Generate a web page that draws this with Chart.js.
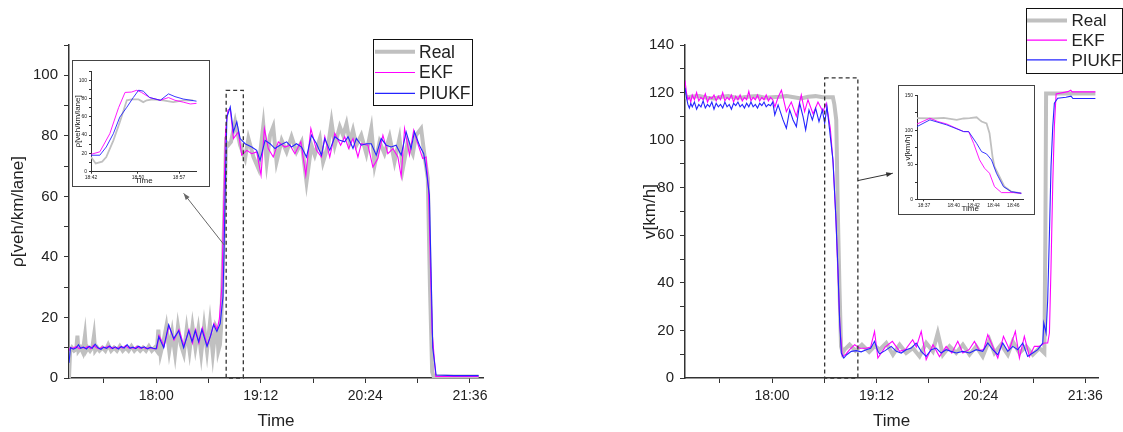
<!DOCTYPE html>
<html>
<head>
<meta charset="utf-8">
<script src="https://cdn.jsdelivr.net/npm/chart.js@4.4.1/dist/chart.umd.min.js"></script>
<style>
  html, body { margin: 0; padding: 0; background: #fff; }
  body { width: 1123px; height: 432px; position: relative; overflow: hidden; }
  canvas { position: absolute; }
  .inset { position: absolute; border: 1px solid #444; background: #fff; }
  .inset canvas { left: 0; top: 0; }
</style>
</head>
<body>
<canvas id="rho" width="560" height="432" style="left:0;top:0"></canvas>
<canvas id="speed" width="487" height="432" style="left:636px;top:0"></canvas>
<div class="inset" style="left:72px;top:60px;width:136px;height:125px"><canvas id="rhoInset" width="136" height="125"></canvas></div>
<div class="inset" style="left:898px;top:85px;width:135px;height:128px"><canvas id="speedInset" width="135" height="128"></canvas></div>
<script>
// time is in minutes after midnight (1080 = 18:00)
const mainTicks = [1044, 1080, 1116, 1152, 1188, 1224, 1260, 1296];
const mainLabelTicks = [1080, 1152, 1224, 1296];
const mainTickLabels = ['18:00', '19:12', '20:24', '21:36'];

// density panel
const rhoRealTime = [
  1020, 1020.8, 1022, 1023.5, 1025, 1025.8, 1026.5, 1028, 1029.5, 1031,
  1031.8, 1033, 1034.5, 1036, 1037.2, 1038, 1039.5, 1041, 1043, 1045,
  1047, 1049, 1051, 1053, 1055, 1057, 1059, 1061, 1063, 1065,
  1067, 1069, 1071, 1073, 1075, 1077, 1079, 1080.5, 1081.5, 1083,
  1085, 1087, 1089, 1091, 1093, 1095, 1097, 1099, 1101, 1103,
  1105, 1107, 1109, 1111, 1113, 1115, 1117, 1119, 1121, 1122,
  1122.8, 1123.9, 1124.6, 1125.8, 1126.9, 1128.1, 1129.8, 1131.5, 1134.4, 1137.8,
  1141.2, 1143.5, 1147, 1150.4, 1153.8, 1156.1, 1158.4, 1160.6, 1162.9, 1166.4,
  1169.8, 1173.2, 1176.6, 1180.1, 1183.5, 1186.9, 1189.2, 1192.7, 1194.9, 1198.4,
  1200.7, 1203, 1206.4, 1208.7, 1211, 1213.2, 1215.5, 1217.8, 1221.2, 1224.7,
  1228.1, 1230.4, 1233.8, 1237.2, 1240.7, 1244.1, 1247.5, 1249.8, 1253.2, 1256.7,
  1258.9, 1262.4, 1264.7, 1267, 1268.5, 1270, 1271, 1280, 1290, 1302
];
const rhoReal = [
  0, 9, 10, 9, 9.5, 14, 9, 10, 8.5, 14,
  9, 10, 9, 10, 14, 9, 10, 9, 10, 9,
  11, 9, 10, 9, 10.5, 9, 10, 9, 10.5, 9,
  10, 9, 10, 9, 10.5, 9, 10, 9, 16, 8,
  12, 17, 9, 15, 8, 17, 11, 8, 16, 9,
  17, 10, 16, 8, 17, 9, 18, 8, 17, 16,
  9, 11, 16, 34, 54, 78, 77, 78, 84.6, 76.9,
  72.5, 79.1, 73, 69.2, 83.5, 71.4, 80.2, 83, 71.4, 78.5,
  74.7, 79.7, 74.7, 78, 64.8, 76.9, 73.6, 79.1, 71.4, 76.9,
  84.6, 76.9, 83, 80.2, 84, 78, 81.9, 76.9, 80.2, 74.1,
  82.4, 70.3, 78, 74.1, 79.7, 71.4, 79.1, 69.2, 78, 74.1,
  80.2, 82.4, 73.6, 65.9, 30, 2, 0.5, 0.5, 0.5, 0.5
];
const rhoEkfTime = [
  1020, 1021, 1023, 1025, 1027, 1029, 1031, 1033, 1035, 1037,
  1039, 1041, 1043, 1045, 1047, 1049, 1051, 1053, 1055, 1057,
  1059, 1061, 1063, 1065, 1067, 1069, 1071, 1073, 1075, 1077,
  1079, 1080.5, 1082, 1085.5, 1088.8, 1092.3, 1095.7, 1099.2, 1102.6, 1105,
  1107.2, 1109.5, 1111.8, 1115.2, 1117.8, 1119.8, 1122, 1123.5, 1125.2, 1126.7,
  1127.8, 1129.4, 1131, 1133.2, 1136.6, 1138.9, 1142.4, 1145.8, 1149.2, 1152.2,
  1154.5, 1157.2, 1160.6, 1164.1, 1168.6, 1172.1, 1175.5, 1179.6, 1183, 1186.5,
  1190.4, 1193.8, 1196.1, 1199.5, 1203, 1207, 1209.8, 1212.5, 1215.5, 1218.9,
  1221.2, 1225.8, 1229.2, 1232.6, 1236.1, 1239.5, 1243, 1246.4, 1248.7, 1251,
  1254.4, 1257.3, 1260.1, 1263.5, 1265.8, 1267.5, 1270, 1272.5, 1285, 1302
];
const rhoEkf = [
  9, 10, 9.8, 10.4, 9.7, 10.2, 9.8, 10.4, 9.7, 10.8,
  10, 9.6, 10.3, 9.9, 10.5, 9.8, 10.2, 9.7, 10.3, 9.9,
  10.7, 9.9, 10.1, 9.8, 10.4, 9.8, 10.2, 9.7, 10, 9.9,
  9.6, 9.8, 14, 10.5, 17.2, 12.5, 16, 10.5, 16, 11.5,
  16, 11.5, 16.5, 10.8, 14.5, 18, 16, 19.5, 30, 60,
  82, 88.4, 89, 79.1, 81.3, 73.6, 75.2, 74.1, 74.7, 67,
  82.4, 75.8, 73, 78, 76.3, 76.9, 74.1, 78, 67, 82.4,
  75.2, 73, 79.7, 73, 80.8, 76.9, 79.7, 75.8, 79.1, 73,
  77.4, 76.9, 69.7, 72.5, 80.2, 74.1, 75.8, 73, 66.5, 82.4,
  73.6, 81.9, 77.4, 72.5, 73, 62, 15, 0.5, 0.5, 0.5
];
const rhoPiukfTime = [
  1020, 1021, 1023, 1025, 1026.5, 1028, 1030, 1032, 1034, 1036,
  1038, 1040, 1042, 1044, 1046, 1048, 1050, 1052, 1054, 1056,
  1058, 1060, 1062, 1064, 1066, 1068, 1070, 1072, 1074, 1076,
  1078, 1080, 1081.8, 1085.2, 1088.6, 1092.1, 1095.5, 1098.9, 1102.4, 1104.7,
  1106.9, 1109.2, 1111.5, 1115, 1117.5, 1119.5, 1121.8, 1124.1, 1126, 1126.8,
  1127.7, 1128.7, 1131, 1133.2, 1135.5, 1137.8, 1141.2, 1145.8, 1149.2, 1151.5,
  1155, 1158.4, 1161.8, 1165.2, 1169.8, 1173.2, 1176.6, 1180.1, 1183.5, 1186.9,
  1190.4, 1193.8, 1196.1, 1199.5, 1203, 1206.4, 1209.8, 1212.1, 1215.5, 1217.8,
  1221.2, 1224.7, 1228.1, 1231.5, 1234.9, 1238.4, 1241.8, 1245.2, 1248.7, 1252.1,
  1255.5, 1257.8, 1261.2, 1264.2, 1265.8, 1268.1, 1270.4, 1272.7, 1285, 1302
];
const rhoPiukf = [
  5, 10, 9.5, 10, 11, 9.8, 10.2, 9.6, 10.5, 9.8,
  11.2, 10, 9.5, 10.2, 9.8, 10.6, 9.7, 10.3, 9.6, 10.4,
  9.9, 11, 9.8, 10.2, 9.7, 10.5, 9.9, 10.3, 9.6, 10.1,
  9.8, 9.6, 13.6, 10, 17.6, 13, 15.6, 10, 15.6, 12,
  15.6, 12, 16, 10.4, 14, 17.6, 15.4, 18, 26.8, 43.3,
  65.3, 86.2, 89.5, 81.3, 84.6, 79.1, 77.4, 76.3, 75.2, 71.9,
  78.5, 77.4, 75.8, 76.9, 78, 76.3, 77.4, 76.3, 73, 80.2,
  77.4, 73.6, 79.1, 75.2, 79.7, 78.5, 78, 79.7, 75.8, 79.1,
  76.9, 77.4, 77.4, 73.6, 79.1, 76.9, 76.3, 76.9, 73.6, 81.3,
  75.8, 81.3, 76.9, 74.1, 69.2, 60.4, 10, 1, 0.8, 0.8
];

// speed panel
const vRealTime = [
  1020, 1021, 1025, 1030, 1035, 1040, 1045, 1050, 1055, 1060,
  1065, 1070, 1075, 1080, 1085, 1090, 1095, 1100, 1105, 1110,
  1115, 1118, 1122, 1123, 1124.3, 1125.4, 1126.5, 1127.6, 1128.8, 1130,
  1133.5, 1137.5, 1142, 1147, 1151, 1154.2, 1158.8, 1163.4, 1168, 1172.5,
  1177.1, 1181.7, 1186.3, 1190.9, 1194.3, 1197.8, 1202.4, 1207, 1211.6, 1216.2,
  1220.8, 1225.3, 1229.9, 1233.4, 1238, 1242.6, 1246, 1250.6, 1255.2, 1259.8,
  1264.4, 1267.8, 1268.5, 1269, 1303
];
const vReal = [
  119, 118, 118.3, 118.5, 117.8, 117.5, 118.2, 118.5, 117.8, 118,
  118.3, 118.5, 117.8, 118, 118.2, 118.5, 118, 117.5, 118.2, 118.5,
  118, 118, 118, 115, 108.5, 69.3, 38.5, 13.3, 10.5, 11.9,
  14, 11.5, 14, 11, 13.5, 11.9, 14.7, 9.8, 14, 10.5,
  12.6, 9.1, 14.7, 11.2, 18.9, 9.8, 13.3, 10.5, 14, 9.8,
  13.3, 9.1, 16.1, 10.5, 14, 9.8, 15.4, 10.5, 13.3, 9.8,
  12.6, 10.5, 60, 119.6, 119.6
];
const vEkfTime = [
  1020, 1021, 1022, 1023, 1024, 1025, 1026.5, 1028, 1029.5, 1031,
  1032.5, 1034, 1035.5, 1037, 1038.5, 1040, 1041.5, 1043, 1044.5, 1046,
  1047.5, 1049, 1050.5, 1052, 1053.5, 1055, 1056.5, 1058, 1059.5, 1061,
  1062.5, 1064, 1065.5, 1067, 1068.5, 1070, 1071.5, 1073, 1074.5, 1076,
  1077.5, 1079, 1080.5, 1082, 1084.2, 1086.5, 1089.9, 1093.3, 1096.8, 1100.2,
  1102.5, 1104.8, 1108.3, 1111.7, 1115.1, 1117.4, 1120.2, 1122.2, 1124.1, 1125.6,
  1126.8, 1128.5, 1131, 1133.5, 1137, 1140.5, 1145, 1148, 1150.7, 1153,
  1158, 1163, 1168, 1172, 1177, 1179.5, 1182.9, 1186.3, 1191, 1195.5,
  1200.1, 1204, 1208.1, 1211.6, 1216, 1219.6, 1223, 1226, 1228.8, 1232.2,
  1235.7, 1239.6, 1243.7, 1247.8, 1250.6, 1254, 1257.5, 1260.9, 1264.4, 1267.8,
  1270.1, 1271.3, 1272.4, 1273.6, 1274.7, 1275.9, 1284, 1286, 1287, 1303
];
const vEkf = [
  125, 120, 117, 118, 116, 119, 117, 120, 116.5, 118,
  117, 119.5, 116, 118, 117.5, 119, 116.5, 118.5, 117, 120,
  116.5, 118, 117, 119, 116, 118.5, 117, 119, 116.5, 118,
  117, 120.5, 116.5, 118, 117, 119, 116.5, 118, 117, 119,
  116.5, 118, 117, 114, 118, 121, 112, 116, 110, 119,
  112, 117, 111, 116, 112, 115.5, 105, 90, 66, 42,
  22, 9.1, 10, 11.9, 14, 12.5, 12.5, 13, 19.6, 8.4,
  13, 15.4, 11.2, 12, 16.1, 13, 19.6, 7.7, 14, 9,
  13.3, 10.5, 15.4, 10.5, 12, 15.4, 11.5, 12, 18.2, 13.3,
  8.4, 17.5, 12, 19.6, 8.4, 17.5, 9, 13.3, 13.3, 14.7,
  14.7, 18.9, 46.9, 81.9, 105.7, 119.4, 120.4, 121, 120.3, 120.3
];
const vPiukfTime = [
  1020, 1021, 1022, 1023, 1024, 1025, 1026.5, 1028, 1029.5, 1031,
  1032.5, 1034, 1035.5, 1037, 1038.5, 1040, 1041.5, 1043, 1044.5, 1046,
  1047.5, 1049, 1050.5, 1052, 1053.5, 1055, 1056.5, 1058, 1059.5, 1061,
  1062.5, 1064, 1065.5, 1067, 1068.5, 1070, 1071.5, 1073, 1074.5, 1076,
  1077.5, 1079, 1080.5, 1081.9, 1084.2, 1087.6, 1089.9, 1092.2, 1094.5, 1096.8,
  1099.1, 1101.4, 1103.2, 1105.5, 1107.8, 1110.1, 1112.4, 1114.7, 1116.3, 1117.9,
  1119.7, 1122, 1123.9, 1125.5, 1126.6, 1127.8, 1129.5, 1131.5, 1134.7, 1138.1,
  1141.5, 1145, 1148, 1150.7, 1153, 1154.2, 1158, 1162.2, 1165.7, 1169.1,
  1172.5, 1176, 1179.4, 1182.9, 1186.3, 1189.8, 1193.2, 1196.6, 1200.1, 1203.5,
  1207, 1211.6, 1216.2, 1220.8, 1225.3, 1228.8, 1232.2, 1235.7, 1239.1, 1242.6,
  1246, 1249.5, 1252.9, 1256.3, 1259.8, 1263.2, 1266.7, 1267.4, 1269, 1270.1,
  1271.3, 1272.4, 1273.6, 1274.7, 1277, 1282.7, 1286.2, 1287.5, 1303
];
const vPiukf = [
  122, 118, 115, 113.5, 115.5, 114, 116, 113, 115, 114,
  116.5, 113.5, 115, 114, 116, 113, 115.5, 114, 115, 113.5,
  116, 114, 115, 113, 115.5, 114.5, 116, 114, 115, 113.5,
  115.5, 114, 116, 114, 115, 113.5, 115.5, 114.5, 116, 114,
  115, 114.5, 116, 110.6, 114.8, 108.5, 105, 112.7, 108.5, 105.7,
  115.5, 109.9, 104.3, 112.7, 108.5, 113.4, 107.8, 112.7, 107.1, 114.1,
  104.3, 91.7, 69.3, 45.5, 24.5, 10.5, 8.4, 9.8, 11.2, 11.5,
  11, 11.9, 12.5, 15.4, 11.2, 10.2, 11.5, 13.3, 11.2, 10.5,
  11.9, 12.6, 14.7, 11.2, 9.1, 11.9, 12.6, 10.5, 11.9, 11.2,
  10.5, 11.2, 10.5, 11.9, 11.2, 14.7, 11.9, 9.8, 14.7, 11.2,
  13.3, 11.9, 14.7, 9.1, 10.5, 11.9, 14.7, 23.1, 18.9, 32.9,
  60.9, 88.9, 105.7, 115.5, 117.6, 118, 118.5, 117.5, 117.5
];

// zoomed insets
const rhoInsetTicks = [1122, 1130, 1137];
const rhoInsetLabels = ['18:42', '18:50', '18:57'];
const rhoInsetRealTime = [1122, 1122.8, 1123.9, 1124.6, 1125.8, 1126.9, 1128.1, 1128.9, 1130.1, 1130.9, 1131.5, 1132.5, 1134.3, 1136, 1137.7, 1139.4];
const rhoInsetReal = [16, 9, 11, 16, 34, 54, 78, 79, 79, 76, 78, 79, 78, 76, 78, 78];
const rhoInsetEkfTime = [1122, 1123.5, 1125.2, 1126.7, 1127.8, 1128.9, 1129.8, 1130.6, 1132, 1133.8, 1135.2, 1136.3, 1137.7, 1138.9, 1140];
const rhoInsetEkf = [19, 21.7, 41.5, 70, 86.6, 87, 89, 86.6, 81, 78, 81, 78, 76, 74, 74.7];
const rhoInsetPiukfTime = [1122, 1123.5, 1124.6, 1125.8, 1126.9, 1128.1, 1129.2, 1130.1, 1130.9, 1132, 1133.8, 1135.2, 1136.3, 1137.7, 1140];
const rhoInsetPiukf = [18, 18, 27, 41.5, 59.6, 70.4, 81, 89, 88, 81, 78, 85, 82, 79.4, 77];

const vInsetTicks = [1117, 1120, 1122, 1124, 1126];
const vInsetLabels = ['18:37', '18:40', '18:42', '18:44', '18:46'];
const vInsetRealTime = [1116.3, 1118, 1119, 1120.3, 1121, 1121.6, 1122.3, 1122.6, 1122.8, 1123.3, 1123.6, 1123.9, 1124.1, 1124.6, 1125.1, 1125.8, 1126.8];
const vInsetReal = [117.4, 117, 117.8, 115, 117, 117.5, 118.8, 115, 112.6, 110, 95.7, 61.8, 47.3, 32.9, 18.4, 11.1, 8.7];
const vInsetEkfTime = [1116.3, 1117.6, 1118.4, 1119.3, 1121, 1121.5, 1122, 1122.6, 1123.1, 1123.6, 1124.1, 1124.8, 1126, 1126.8];
const vInsetEkf = [109, 117.4, 112.6, 109, 98, 98, 81, 57, 45, 37.7, 18.4, 9.7, 9.7, 8.7];
const vInsetPiukfTime = [1116.3, 1117.6, 1119.3, 1121, 1121.5, 1122.3, 1122.8, 1123.3, 1123.8, 1124.3, 1125, 1125.8, 1126.8];
const vInsetPiukf = [105.3, 115, 107.7, 98, 98, 81, 69, 65.7, 57, 37.7, 18.4, 11, 8.7];

const FONT = '"Liberation Sans", Arial, sans-serif';
const TEXT = '#222';
const AXIS = '#333';
const COLORS = { real: '#c0c0c0', ekf: '#ff00ff', piukf: '#2424ff' };

function series(t, v) {
    return t.map((x, i) => ({ x: x, y: v[i] }));
}

function makeDatasets(real, ekf, piukf, w, realW) {
    return [
        { label: 'PIUKF', data: piukf, borderColor: COLORS.piukf, borderWidth: w, order: 1 },
        { label: 'EKF', data: ekf, borderColor: COLORS.ekf, borderWidth: w, order: 2 },
        { label: 'Real', data: real, borderColor: COLORS.real, borderWidth: realW, order: 3 }
    ];
}

/**
 * Axis options shared by the big panels and the insets
 */
function axisOptions(c) {
    return {
        responsive: false,
        animation: false,
        layout: { padding: { top: c.padTop, right: c.padRight, left: 0, bottom: 0 } },
        elements: { point: { radius: 0 }, line: { tension: 0, fill: false } },
        plugins: { legend: { display: false }, tooltip: { enabled: false } },
        scales: {
            x: {
                type: 'linear',
                min: c.xmin,
                max: c.xmax,
                afterBuildTicks: (s) => { s.ticks = c.xTicks.map(v => ({ value: v })); },
                afterFit: (s) => { s.height = c.xHeight; },
                ticks: {
                    autoSkip: false, maxRotation: 0, padding: c.tickPad, color: TEXT,
                    font: { family: FONT, size: c.xTickFont },
                    callback: (v) => {
                        const i = c.xLabelTicks.indexOf(v);
                        return i >= 0 ? c.xLabels[i] : '';
                    }
                },
                grid: { drawOnChartArea: false, tickLength: c.tickLen, color: AXIS },
                border: { color: AXIS, width: c.axisWidth },
                title: {
                    display: true, text: 'Time', color: TEXT,
                    font: { family: FONT, size: c.titleFont },
                    padding: { top: 0, bottom: 0 }
                }
            },
            y: {
                min: 0,
                max: c.ymax,
                afterFit: (s) => { s.width = c.yWidth; },
                ticks: {
                    stepSize: c.ystep, padding: c.tickPad + 1, color: TEXT,
                    font: { family: FONT, size: c.yTickFont },
                    callback: (v) => (v % c.ylabelStep === 0 ? v : '')
                },
                grid: { drawOnChartArea: false, tickLength: c.tickLen, color: AXIS },
                border: { color: AXIS, width: c.axisWidth },
                title: {
                    display: true, text: c.yTitle, color: TEXT,
                    font: { family: FONT, size: c.titleFont },
                    padding: { top: c.yTitlePad, bottom: 0 }
                }
            }
        }
    };
}

// dashed zoom box and arrow, given in data units
function decorPlugin(d) {
    return {
        id: 'decor',
        afterDatasetsDraw(chart) {
            const { ctx } = chart;
            const xs = chart.scales.x, ys = chart.scales.y;
            const x0 = xs.getPixelForValue(d.box[0]), x1 = xs.getPixelForValue(d.box[1]);
            const y0 = ys.getPixelForValue(d.box[2]), y1 = ys.getPixelForValue(d.box[3]);
            ctx.save();
            ctx.strokeStyle = '#333';
            ctx.lineWidth = 1.3;
            ctx.setLineDash([4, 3]);
            ctx.strokeRect(x0, y1, x1 - x0, y0 - y1);
            ctx.setLineDash([]);

            const ax = xs.getPixelForValue(d.arrow[0]), ay = ys.getPixelForValue(d.arrow[1]);
            const bx = xs.getPixelForValue(d.arrow[2]), by = ys.getPixelForValue(d.arrow[3]);
            const ang = Math.atan2(by - ay, bx - ax);
            ctx.strokeStyle = d.arrowColor;
            ctx.fillStyle = d.arrowColor;
            ctx.lineWidth = 1;
            ctx.beginPath();
            ctx.moveTo(ax, ay);
            ctx.lineTo(bx, by);
            ctx.stroke();
            ctx.beginPath();
            ctx.moveTo(bx, by);
            ctx.lineTo(bx - 7 * Math.cos(ang - 0.35), by - 7 * Math.sin(ang - 0.35));
            ctx.lineTo(bx - 7 * Math.cos(ang + 0.35), by - 7 * Math.sin(ang + 0.35));
            ctx.closePath();
            ctx.fill();
            ctx.restore();
        }
    };
}

// boxed legend like the original figure
function legendPlugin(b) {
    return {
        id: 'boxLegend',
        afterDraw(chart) {
            const ctx = chart.ctx;
            const items = [['Real', COLORS.real, 4], ['EKF', COLORS.ekf, 1.2], ['PIUKF', COLORS.piukf, 1.2]];
            ctx.save();
            ctx.fillStyle = '#fff';
            ctx.fillRect(b.x, b.y, b.w, b.h);
            ctx.strokeStyle = '#111';
            ctx.lineWidth = 1;
            ctx.strokeRect(b.x + 0.5, b.y + 0.5, b.w, b.h);
            ctx.font = `${b.font}px ${FONT}`;
            ctx.textBaseline = 'middle';
            items.forEach(([label, color, w], i) => {
                const y = b.y + b.first + i * b.gap;
                ctx.strokeStyle = color;
                ctx.lineWidth = w;
                ctx.beginPath();
                ctx.moveTo(b.x + b.line0, y);
                ctx.lineTo(b.x + b.line1, y);
                ctx.stroke();
                ctx.fillStyle = TEXT;
                ctx.fillText(label, b.x + b.text, y + 1);
            });
            ctx.restore();
        }
    };
}

const mainBase = {
    padTop: 45, xmin: 1020, xmax: 1305, xTicks: mainTicks, xLabelTicks: mainLabelTicks, xLabels: mainTickLabels,
    xHeight: 54, tickPad: 5, xTickFont: 14, yTickFont: 15, tickLen: 5, axisWidth: 1.5, titleFont: 17, ystep: 10, ylabelStep: 20
};
const insetBase = {
    padTop: 10, tickPad: 1, xTickFont: 5, yTickFont: 5, tickLen: 2, axisWidth: 1, titleFont: 8, yWidth: 18, yTitlePad: 0
};

new Chart(document.getElementById('rho'), {
    type: 'line',
    data: { datasets: makeDatasets(series(rhoRealTime, rhoReal), series(rhoEkfTime, rhoEkf), series(rhoPiukfTime, rhoPiukf), 1.1, 4) },
    options: axisOptions({ ...mainBase, padRight: 77, ymax: 110, yWidth: 69, yTitle: 'ρ[veh/km/lane]', yTitlePad: 8 }),
    plugins: [
        decorPlugin({ box: [1128.2, 1140, 0, 95], arrow: [1126.9, 43.9, 1098.9, 61], arrowColor: '#666' }),
        legendPlugin({ x: 373, y: 39, w: 99, h: 66, first: 12.7, gap: 20.8, line0: 2, line1: 42, text: 46, font: 17.5 })
    ]
});

new Chart(document.getElementById('speed'), {
    type: 'line',
    data: { datasets: makeDatasets(series(vRealTime, vReal), series(vEkfTime, vEkf), series(vPiukfTime, vPiukf), 1.1, 4) },
    options: axisOptions({ ...mainBase, padRight: 24.7, ymax: 140, yWidth: 49, yTitle: 'v[km/h]', yTitlePad: 4 }),
    plugins: [
        decorPlugin({ box: [1116.3, 1139.2, 0, 126.2], arrow: [1139.2, 83, 1163.3, 86.1], arrowColor: '#333' }),
        legendPlugin({ x: 390, y: 8, w: 96, h: 65, first: 12.5, gap: 19.7, line0: 1, line1: 41, text: 45.5, font: 17 })
    ]
});

new Chart(document.getElementById('rhoInset'), {
    type: 'line',
    data: { datasets: makeDatasets(series(rhoInsetRealTime, rhoInsetReal), series(rhoInsetEkfTime, rhoInsetEkf), series(rhoInsetPiukfTime, rhoInsetPiukf), 0.9, 1.8) },
    options: axisOptions({
        ...insetBase, padRight: 12.3, xHeight: 14.3, xmin: 1122, xmax: 1140,
        xTicks: rhoInsetTicks, xLabelTicks: rhoInsetTicks, xLabels: rhoInsetLabels,
        ymax: 110, ystep: 10, ylabelStep: 20, yTitle: 'ρ[veh/km/lane]'
    })
});

new Chart(document.getElementById('speedInset'), {
    type: 'line',
    data: { datasets: makeDatasets(series(vInsetRealTime, vInsetReal), series(vInsetEkfTime, vInsetEkf), series(vInsetPiukfTime, vInsetPiukf), 0.9, 1.8) },
    options: axisOptions({
        ...insetBase, padTop: 9.7, padRight: 10.7, xHeight: 14.7, xmin: 1116.3, xmax: 1127,
        xTicks: vInsetTicks, xLabelTicks: vInsetTicks, xLabels: vInsetLabels,
        ymax: 150, ystep: 25, ylabelStep: 50, yTitle: 'v[km/h]', yTitlePad: 4
    })
});
</script>
</body>
</html>
